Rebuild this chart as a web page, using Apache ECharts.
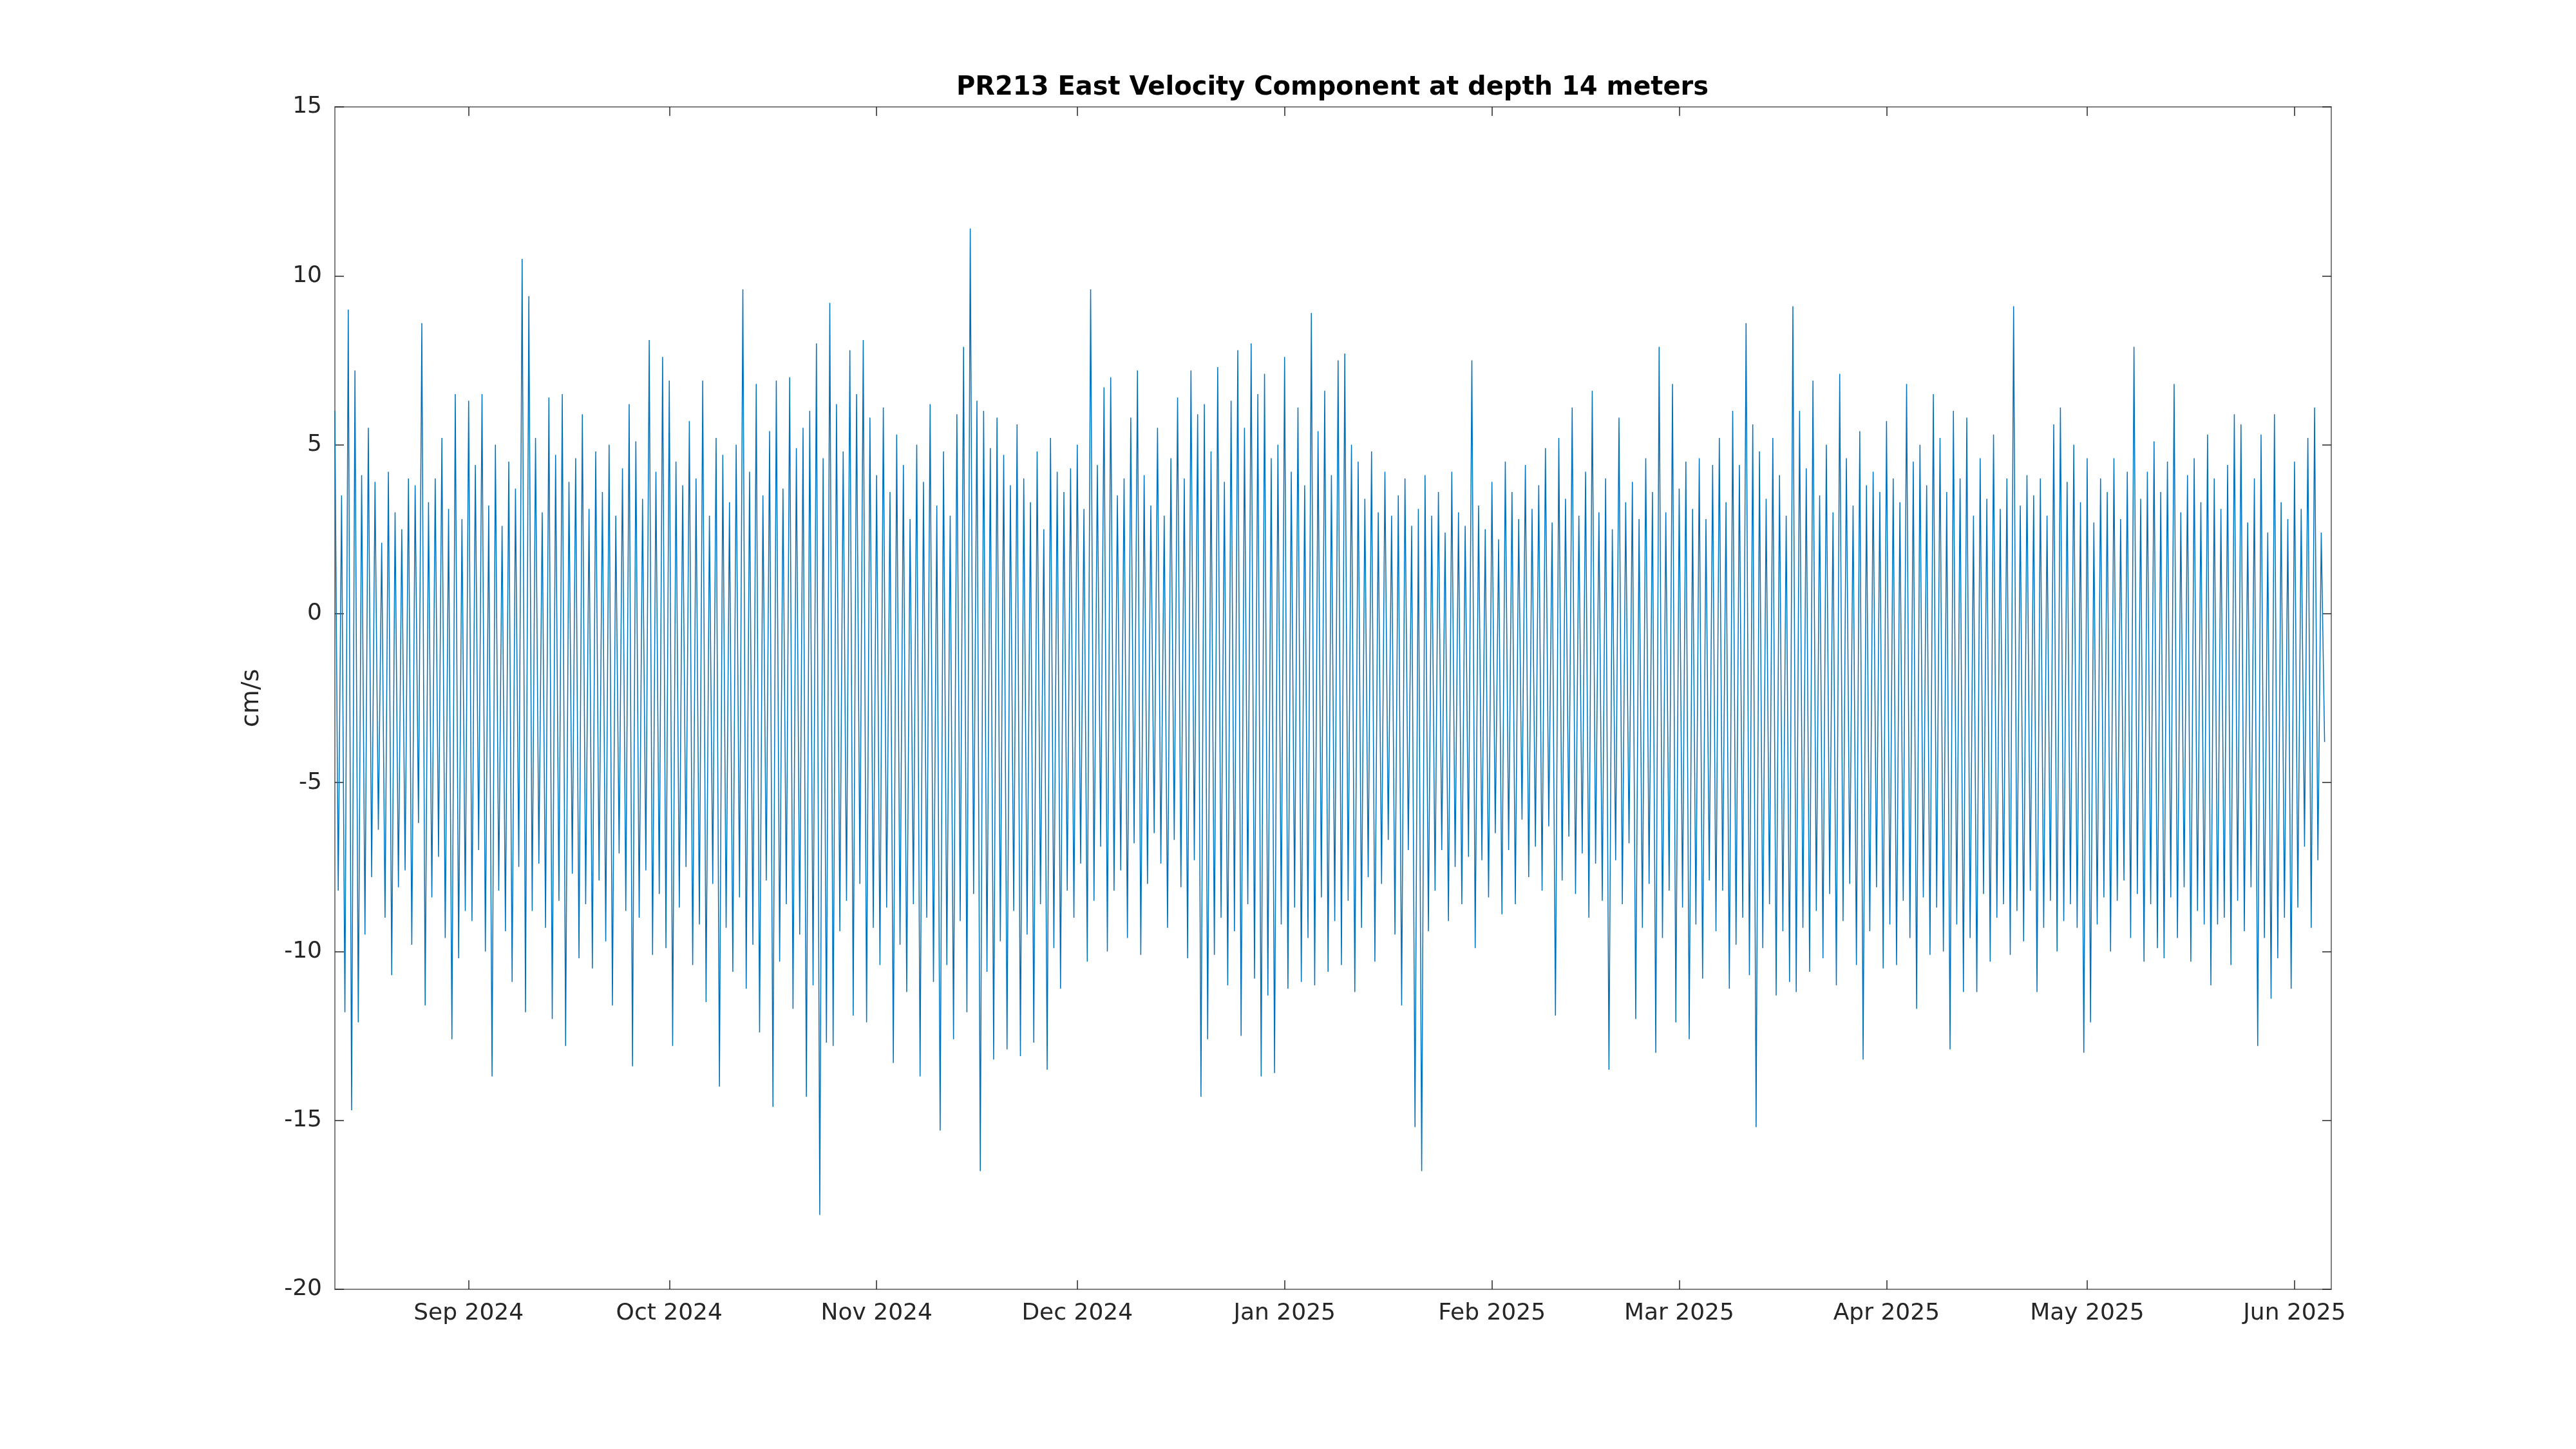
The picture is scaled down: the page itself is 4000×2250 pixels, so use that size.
<!DOCTYPE html>
<html>
<head>
<meta charset="utf-8">
<script src="https://cdn.jsdelivr.net/npm/echarts@6/dist/echarts.min.js"></script>
<style>html,body{margin:0;background:#fff}#chart{width:4000px;height:2250px}</style>
</head>
<body>
<div id="chart"></div>
<script>
var titleText = 'PR213 East Velocity Component at depth 14 meters';
var startTime = Date.UTC(2024, 7, 12);
var endTime = Date.UTC(2025, 5, 6, 12);
var stepHours = 12;
var monthTicks = ['2024-09-01', '2024-10-01', '2024-11-01', '2024-12-01', '2025-01-01',
    '2025-02-01', '2025-03-01', '2025-04-01', '2025-05-01', '2025-06-01'];
var monthNames = ['Jan', 'Feb', 'Mar', 'Apr', 'May', 'Jun', 'Jul', 'Aug', 'Sep', 'Oct', 'Nov', 'Dec'];

// velocity in cm/s, one value every 12 hours
var velocity = [
    6.0,-8.2, 3.5,-11.8, 9.0,-14.7, 7.2,-12.1, 4.1,-9.5, 5.5,-7.8, 3.9,-6.4, 2.1,-9.0, 4.2,-10.7, 3.0,-8.1,
    2.5,-7.6, 4.0,-9.8, 3.8,-6.2, 8.6,-11.6, 3.3,-8.4, 4.0,-7.2, 5.2,-9.6, 3.1,-12.6, 6.5,-10.2, 2.8,-8.8,
    6.3,-9.1, 4.4,-7.0, 6.5,-10.0, 3.2,-13.7, 5.0,-8.2, 2.6,-9.4, 4.5,-10.9, 3.7,-7.5, 10.5,-11.8, 9.4,-8.8,
    5.2,-7.4, 3.0,-9.3, 6.4,-12.0, 4.7,-8.5, 6.5,-12.8, 3.9,-7.7, 4.6,-10.2, 5.9,-8.6, 3.1,-10.5, 4.8,-7.9,
    3.6,-9.7, 5.0,-11.6, 2.9,-7.1, 4.3,-8.8, 6.2,-13.4, 5.1,-9.0, 3.4,-7.6, 8.1,-10.1, 4.2,-8.3, 7.6,-9.9,
    6.9,-12.8, 4.5,-8.7, 3.8,-7.5, 5.7,-10.4, 4.0,-9.2, 6.9,-11.5, 2.9,-8.0, 5.2,-14.0, 4.7,-9.3, 3.3,-10.6,
    5.0,-8.4, 9.6,-11.1, 4.2,-9.8, 6.8,-12.4, 3.5,-7.9, 5.4,-14.6, 6.9,-10.3, 3.7,-8.6, 7.0,-11.7, 4.9,-9.5,
    5.5,-14.3, 6.0,-11.0, 8.0,-17.8, 4.6,-12.7, 9.2,-12.8, 6.2,-9.4, 4.8,-8.5, 7.8,-11.9, 6.5,-8.0, 8.1,-12.1,
    5.8,-9.3, 4.1,-10.4, 6.1,-8.7, 3.6,-13.3, 5.3,-9.8, 4.4,-11.2, 2.8,-8.6, 5.0,-13.7, 3.9,-9.0, 6.2,-10.9,
    3.2,-15.3, 4.8,-10.4, 2.9,-12.6, 5.9,-9.1, 7.9,-11.8, 11.4,-8.3, 6.3,-16.5, 6.0,-10.6, 4.9,-13.2, 5.8,-9.7,
    4.7,-12.9, 3.8,-8.8, 5.6,-13.1, 4.0,-9.5, 3.3,-12.7, 4.8,-8.6, 2.5,-13.5, 5.2,-9.9, 4.2,-11.1, 3.6,-8.2,
    4.3,-9.0, 5.0,-7.4, 3.1,-10.3, 9.6,-8.5, 4.4,-6.9, 6.7,-10.0, 7.0,-8.2, 3.5,-7.6, 4.0,-9.6, 5.8,-6.8,
    7.2,-10.1, 4.1,-8.0, 3.2,-6.5, 5.5,-7.4, 2.9,-9.3, 4.6,-6.7, 6.4,-8.1, 4.0,-10.2, 7.2,-7.3, 5.9,-14.3,
    6.2,-12.6, 4.8,-10.1, 7.3,-9.0, 3.9,-11.0, 6.3,-9.4, 7.8,-12.5, 5.5,-8.6, 8.0,-10.8, 6.5,-13.7, 7.1,-11.3,
    4.6,-13.6, 5.0,-9.2, 7.6,-11.1, 4.2,-8.7, 6.1,-10.9, 3.8,-9.6, 8.9,-11.0, 5.4,-8.4, 6.6,-10.6, 4.1,-9.1,
    7.5,-10.4, 7.7,-8.5, 5.0,-11.2, 4.5,-9.3, 3.4,-7.8, 4.8,-10.3, 3.0,-8.0, 4.2,-6.7, 2.9,-9.5, 3.5,-11.6,
    4.0,-7.0, 2.6,-15.2, 3.1,-16.5, 4.1,-9.4, 2.9,-8.2, 3.6,-7.0, 2.4,-9.1, 4.2,-7.5, 3.0,-8.6, 2.6,-7.2,
    7.5,-9.9, 3.2,-7.3, 2.5,-8.4, 3.9,-6.5, 2.2,-8.9, 4.5,-7.0, 3.6,-8.6, 2.8,-6.1, 4.4,-7.8, 3.1,-6.9,
    3.8,-8.2, 4.9,-6.3, 2.7,-11.9, 5.2,-7.9, 3.4,-6.6, 6.1,-8.3, 2.9,-7.1, 4.2,-9.0, 6.6,-7.4, 3.0,-8.5,
    4.0,-13.5, 2.5,-7.3, 5.8,-8.6, 3.3,-6.8, 3.9,-12.0, 2.8,-9.3, 4.6,-8.0, 3.6,-13.0, 7.9,-9.6, 3.0,-8.2,
    6.8,-12.1, 3.7,-8.7, 4.5,-12.6, 3.1,-9.2, 4.6,-10.8, 2.8,-7.9, 4.4,-9.4, 5.2,-8.2, 3.3,-11.1, 6.0,-9.8,
    4.4,-9.0, 8.6,-10.7, 5.6,-15.2, 4.8,-9.9, 3.4,-8.6, 5.2,-11.3, 4.1,-9.4, 2.9,-10.9, 9.1,-11.2, 6.0,-9.3,
    4.3,-10.6, 6.9,-8.8, 3.5,-10.2, 5.0,-8.3, 3.0,-11.0, 7.1,-9.1, 4.6,-8.0, 3.2,-10.4, 5.4,-13.2, 3.8,-9.4,
    4.2,-8.1, 3.6,-10.5, 5.7,-9.2, 4.0,-10.4, 3.3,-8.5, 6.8,-9.6, 4.5,-11.7, 5.0,-8.4, 3.8,-10.1, 6.5,-8.7,
    5.2,-10.0, 3.6,-12.9, 6.0,-9.2, 4.0,-11.2, 5.8,-9.6, 2.9,-11.2, 4.6,-8.3, 3.4,-10.3, 5.3,-9.0, 3.1,-8.6,
    4.0,-10.1, 9.1,-8.8, 3.2,-9.7, 4.1,-8.2, 3.5,-11.2, 4.0,-9.3, 2.9,-8.5, 5.6,-10.0, 6.1,-9.1, 3.9,-8.6,
    5.0,-9.3, 3.3,-13.0, 4.6,-12.1, 2.7,-9.2, 4.0,-8.4, 3.6,-10.0, 4.6,-8.5, 2.8,-7.9, 4.2,-9.6, 7.9,-8.3,
    3.4,-10.3, 4.2,-8.6, 5.1,-9.9, 3.6,-10.2, 4.5,-8.4, 6.8,-9.6, 3.0,-8.1, 4.1,-10.3, 4.6,-8.8, 3.3,-9.2,
    5.3,-11.0, 4.0,-9.2, 3.1,-9.0, 4.4,-10.4, 5.9,-8.5, 5.6,-9.4, 2.7,-8.1, 4.0,-12.8, 5.3,-9.6, 2.4,-11.4,
    5.9,-10.2, 3.3,-9.0, 2.8,-11.1, 4.5,-8.7, 3.1,-6.9, 5.2,-9.3, 6.1,-7.3, 2.4,-3.8
];

var tickTimes = monthTicks.map(function (s) { return Date.parse(s + 'T00:00:00Z'); });
var seriesData = velocity.map(function (v, i) {
    return [startTime + i * stepHours * 3600 * 1000, v];
});

var font = 'DejaVu Sans';
var axisColor = '#262626';

var xCommon = {
    type: 'value', min: startTime, max: endTime,
    axisLine: { show: false, onZero: false },
    splitLine: { show: false },
    axisTick: { show: true, inside: true, length: 14, customValues: tickTimes, lineStyle: { color: axisColor, width: 1.5 } }
};
var yCommon = {
    type: 'value', min: -20, max: 15, interval: 5,
    axisLine: { show: false, onZero: false },
    splitLine: { show: false },
    axisTick: { show: true, inside: true, length: 14, lineStyle: { color: axisColor, width: 1.5 } }
};

var chart = echarts.init(document.getElementById('chart'));
chart.setOption({
    backgroundColor: '#fff',
    animation: false,
    title: {
        text: titleText, left: 2064, top: 112, textAlign: 'center',
        textStyle: { fontFamily: font, fontWeight: 'bold', fontSize: 40, color: '#000' }
    },
    grid: {
        left: 520, right: 380, top: 166, bottom: 248,
        show: true, borderColor: '#7f7f7f', borderWidth: 2
    },
    xAxis: [
        Object.assign({}, xCommon, {
            position: 'bottom',
            axisLabel: {
                customValues: tickTimes, margin: 20,
                fontFamily: font, fontSize: 36, color: axisColor,
                formatter: function (v) {
                    var d = new Date(v);
                    return monthNames[d.getUTCMonth()] + ' ' + d.getUTCFullYear();
                }
            }
        }),
        Object.assign({}, xCommon, { position: 'top', axisLabel: { show: false } })
    ],
    yAxis: [
        Object.assign({}, yCommon, {
            position: 'left',
            name: 'cm/s', nameLocation: 'middle', nameGap: 110, nameRotate: 90,
            nameTextStyle: { fontFamily: font, fontSize: 38, color: axisColor },
            axisLabel: { margin: 20, fontFamily: font, fontSize: 36, color: axisColor }
        }),
        Object.assign({}, yCommon, { position: 'right', axisLabel: { show: false } })
    ],
    series: [{
        type: 'line',
        data: seriesData,
        showSymbol: false,
        lineStyle: { color: '#0072BD', width: 1.5 },
        silent: true
    }]
});
</script>
</body>
</html>
